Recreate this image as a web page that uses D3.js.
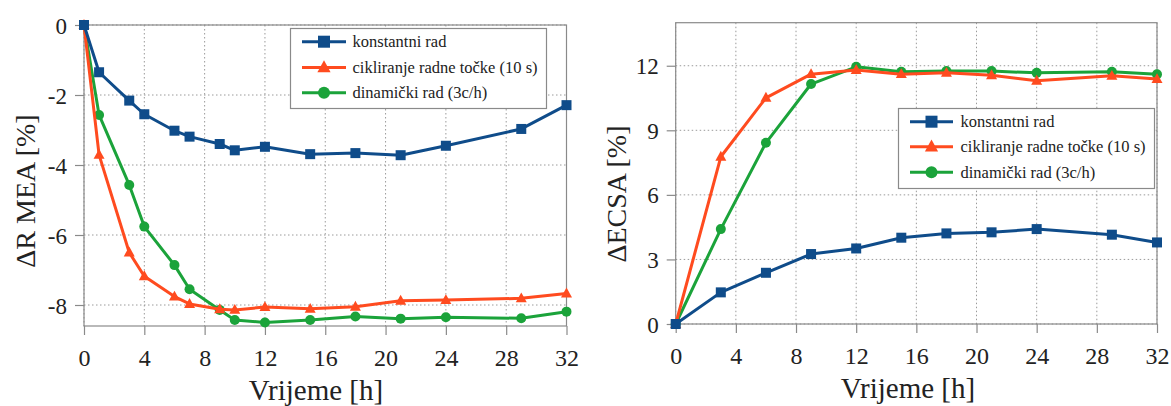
<!DOCTYPE html>
<html>
<head>
<meta charset="utf-8">
<script src="https://cdn.jsdelivr.net/npm/d3@7"></script>
<style>
  html, body { margin: 0; padding: 0; background: #fff; }
  svg { display: block; }
  svg text { font-family: "Liberation Serif", "Times New Roman", serif !important; }
</style>
</head>
<body>
<svg id="chart" width="1171" height="406"></svg>
<script>
// ---- Data ----
const seriesNames = ["konstantni rad", "cikliranje radne točke (10 s)", "dinamički rad (3c/h)"];
const xTicks = [0, 4, 8, 12, 16, 20, 24, 28, 32];

// Left panel: ΔR MEA [%]
const leftYTicks = [-8, -6, -4, -2, 0];
const leftX = [0, 1, 3, 4, 6, 7, 9, 10, 12, 15, 18, 21, 24, 29, 32];
const leftKonstantni = [0, -1.35, -2.16, -2.55, -3.02, -3.19, -3.40, -3.58, -3.48, -3.69, -3.66, -3.72, -3.45, -2.97, -2.29];
const leftCikliranje = [0, -3.71, -6.50, -7.18, -7.76, -7.97, -8.12, -8.14, -8.06, -8.11, -8.05, -7.88, -7.86, -7.81, -7.67];
const leftDinamicki  = [0, -2.57, -4.57, -5.76, -6.86, -7.55, -8.14, -8.43, -8.50, -8.43, -8.33, -8.39, -8.35, -8.38, -8.19];

// Right panel: ΔECSA [%]
const rightYTicks = [0, 3, 6, 9, 12];
const rightX = [0, 3, 6, 9, 12, 15, 18, 21, 24, 29, 32];
const rightKonstantni = [0, 1.47, 2.38, 3.25, 3.51, 4.01, 4.21, 4.26, 4.41, 4.15, 3.79];
const rightCikliranje = [0, 7.77, 10.51, 11.61, 11.80, 11.61, 11.67, 11.56, 11.30, 11.53, 11.38];
const rightDinamicki  = [0, 4.41, 8.42, 11.15, 11.95, 11.72, 11.75, 11.75, 11.67, 11.72, 11.60];

// ---- Styles ----
const colors = ["#0F4C8A", "#FF4B1F", "#1BA33A"];
const markers = ["square", "triangle", "circle"];
const FONT = '"Liberation Serif", "Times New Roman", serif';

const svg = d3.select("#chart");

function drawMarker(g, type, cx, cy, color, size) {
  if (type === "square") {
    g.append("rect").attr("x", cx - size / 2).attr("y", cy - size / 2)
      .attr("width", size).attr("height", size).attr("fill", color);
  } else if (type === "circle") {
    g.append("circle").attr("cx", cx).attr("cy", cy).attr("r", size / 2).attr("fill", color);
  } else {
    const s = size * 1.1;
    const h = s * 0.9;
    g.append("path")
      .attr("d", `M${cx},${cy - h * 0.6} L${cx + s / 2},${cy + h * 0.4} L${cx - s / 2},${cy + h * 0.4} Z`)
      .attr("fill", color);
  }
}

function panel(cfg) {
  const x = d3.scaleLinear().domain([0, 32]).range([cfg.x0, cfg.x1]);
  const y = d3.scaleLinear().domain(cfg.yDomain).range([cfg.yBottom, cfg.yTop]);
  const g = svg.append("g");

  // grid
  g.append("g").selectAll("line").data(xTicks).join("line")
    .attr("x1", d => x(d)).attr("x2", d => x(d))
    .attr("y1", cfg.yTop).attr("y2", cfg.yBottom)
    .attr("stroke", "#9a9a9a").attr("stroke-width", 1).attr("stroke-dasharray", "1.5,2.5");
  g.append("g").selectAll("line").data(cfg.yTicks).join("line")
    .attr("x1", cfg.x0).attr("x2", cfg.x1)
    .attr("y1", d => y(d)).attr("y2", d => y(d))
    .attr("stroke", "#9a9a9a").attr("stroke-width", 1).attr("stroke-dasharray", "1.5,2.5");

  // frame
  g.append("rect").attr("x", cfg.x0).attr("y", cfg.yTop)
    .attr("width", cfg.x1 - cfg.x0).attr("height", cfg.yBottom - cfg.yTop)
    .attr("fill", "none").attr("stroke", "#8a8a8a").attr("stroke-width", 1.2);

  // axes
  const xAxis = d3.axisBottom(x).tickValues(xTicks).tickSize(9).tickPadding(7).tickFormat(d3.format("d"));
  const xg = g.append("g").attr("transform", `translate(0,${cfg.yBottom})`).call(xAxis)
    .attr("font-family", null).attr("font-size", null);
  xg.select(".domain").remove();
  xg.selectAll("line").attr("stroke", "#8a8a8a").attr("stroke-width", 1.2);
  xg.selectAll("text").style("font-family", FONT).style("font-size", "24px").attr("fill", "#222")
    .attr("dy", null).attr("y", cfg.xTickBaseline - cfg.yBottom);

  const yAxis = d3.axisLeft(y).tickValues(cfg.yTicks).tickSize(9).tickPadding(8).tickFormat(d => String(d).replace("−", "-"));
  const yg = g.append("g").attr("transform", `translate(${cfg.x0},0)`).call(yAxis)
    .attr("font-family", null).attr("font-size", null);
  yg.select(".domain").remove();
  yg.selectAll("line").attr("stroke", "#8a8a8a").attr("stroke-width", 1.2);
  yg.selectAll("text").style("font-family", FONT).style("font-size", "23px").attr("fill", "#222")
    .attr("dy", "0.35em");

  // series (draw green, red, then blue on top)
  const order = [2, 1, 0];
  const line = d3.line().x(d => x(d[0])).y(d => y(d[1]));
  order.forEach(i => {
    const pts = cfg.xs.map((xv, j) => [xv, cfg.series[i][j]]);
    g.append("path").datum(pts).attr("d", line)
      .attr("fill", "none").attr("stroke", colors[i]).attr("stroke-width", 3).attr("stroke-linejoin", "round");
    const mg = g.append("g");
    pts.forEach(p => drawMarker(mg, markers[i], x(p[0]), y(p[1]), colors[i], 10));
  });

  // axis titles
  g.append("text").attr("x", cfg.xLabelX).attr("y", cfg.xLabelY)
    .attr("text-anchor", "middle").style("font-family", FONT).style("font-size", "29px").attr("fill", "#222").text("Vrijeme [h]");
  g.append("text").attr("transform", `translate(${cfg.yLabelX},${cfg.yLabelY}) rotate(-90)`)
    .attr("text-anchor", "middle").style("font-family", FONT).style("font-size", "28px").attr("fill", "#222").text(cfg.yLabel);

  // legend
  const L = cfg.legend;
  const lg = g.append("g");
  lg.append("rect").attr("x", L.x).attr("y", L.y).attr("width", L.w).attr("height", L.h)
    .attr("fill", "#fff").attr("stroke", "#8a8a8a").attr("stroke-width", 1.2);
  seriesNames.forEach((name, i) => {
    const cy = L.rows[i];
    lg.append("line").attr("x1", L.lx0).attr("x2", L.lx1).attr("y1", cy).attr("y2", cy)
      .attr("stroke", colors[i]).attr("stroke-width", 3);
    drawMarker(lg, markers[i], (L.lx0 + L.lx1) / 2, cy, colors[i], 12);
    lg.append("text").attr("x", L.tx).attr("y", cy).attr("dy", "0.35em")
      .style("font-family", FONT).style("font-size", "16.5px").attr("fill", "#222").text(name);
  });
}

panel({
  x0: 84, x1: 566.5, yTop: 25, yBottom: 326,
  yDomain: [-8.6, 0], yTicks: leftYTicks,
  xs: leftX, series: [leftKonstantni, leftCikliranje, leftDinamicki],
  xTickBaseline: 366,
  xLabelX: 316, xLabelY: 400, yLabelX: 35, yLabelY: 191, yLabel: "ΔR MEA [%]",
  legend: { x: 290.5, y: 28.5, w: 256, h: 80, rows: [41.7, 67.5, 92.7], lx0: 302, lx1: 346, tx: 352.5 }
});

panel({
  x0: 675.7, x1: 1157, yTop: 22.7, yBottom: 324,
  yDomain: [0, 14], yTicks: rightYTicks,
  xs: rightX, series: [rightKonstantni, rightCikliranje, rightDinamicki],
  xTickBaseline: 364,
  xLabelX: 908, xLabelY: 398, yLabelX: 626, yLabelY: 194, yLabel: "ΔECSA [%]",
  legend: { x: 898.5, y: 108.5, w: 256, h: 80, rows: [121.7, 146.7, 172.3], lx0: 910, lx1: 953, tx: 960.5 }
});
</script>
</body>
</html>
